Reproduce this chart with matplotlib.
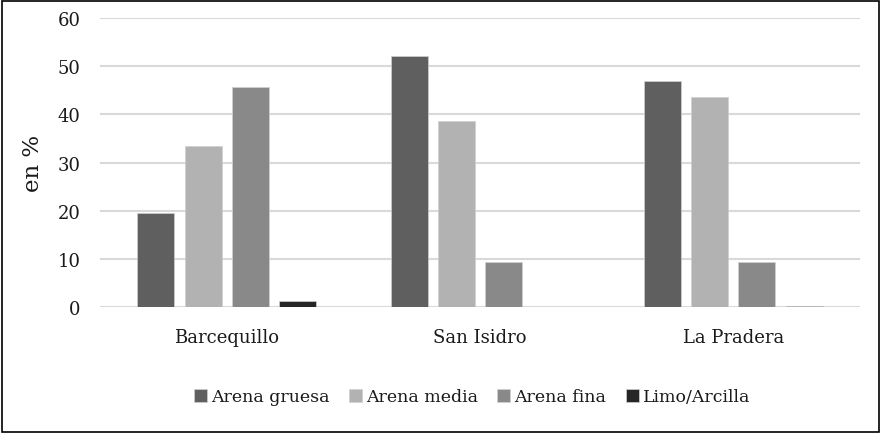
import numpy as np
import matplotlib.pyplot as plt
from matplotlib.patches import Rectangle

plt.rcParams['font.family'] = ['DejaVu Serif']

sites = ['Barcequillo', 'San Isidro', 'La Pradera']
fractions = ['Arena gruesa', 'Arena media', 'Arena fina', 'Limo/Arcilla']
arena_gruesa = [19.5, 52.0, 46.8]
arena_media = [33.5, 38.7, 43.6]
arena_fina = [45.7, 9.3, 9.4]
limo_arcilla = [1.3, 0.0, 0.2]

colors = ['#5f5f5f', '#b2b2b2', '#898989', '#262626']
series = [arena_gruesa, arena_media, arena_fina, limo_arcilla]

fig = plt.figure(figsize=(8.81, 4.35), dpi=100)
ax = fig.add_axes([100 / 881, 1 - 308.3 / 435, 760 / 881, 289.5 / 435])

x = np.arange(len(sites))
step = 0.186
width = 0.146
for i, (vals, c) in enumerate(zip(series, colors)):
    ax.bar(x + (i - 1.5) * step, vals, width, color=c, edgecolor='#d0d0d0',
           linewidth=0.5, label=fractions[i], zorder=3)

ax.set_xlim(-0.5, 2.5)
ax.set_ylim(0, 60)
ax.set_yticks(range(0, 61, 10))
ax.set_xticks(x)
ax.set_xticklabels(sites)
ax.grid(axis='y', color='#d9d9d9', linewidth=1.5, zorder=0)
ax.set_axisbelow(True)
for s in ax.spines.values():
    s.set_visible(False)
ax.tick_params(length=0, labelsize=13, colors='#1a1a1a')
ax.tick_params(axis='y', pad=14)
ax.tick_params(axis='x', pad=15)
ax.set_ylabel('en %', fontsize=16.5, labelpad=10, color='#1a1a1a')

fig.legend(loc='center', bbox_to_anchor=(472 / 881, 1 - 398 / 435), ncol=4,
           frameon=False, fontsize=12.5, handlelength=0.75, handleheight=0.75,
           handletextpad=0.25, columnspacing=1.1, labelcolor='#1a1a1a')

fig.add_artist(Rectangle((2 / 881, 2 / 435), 877 / 881, 431 / 435,
                         transform=fig.transFigure, fill=False,
                         edgecolor='black', linewidth=1.2))

fig.savefig('out.png', dpi=100)
